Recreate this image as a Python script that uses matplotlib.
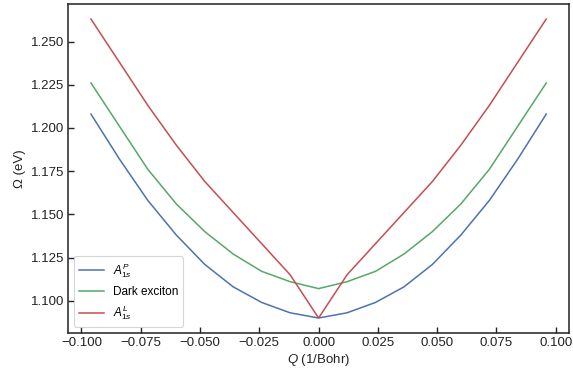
import matplotlib
matplotlib.use("Agg")
import matplotlib.pyplot as plt

# momentum grid (1/Bohr)
q = [-0.096, -0.084, -0.072, -0.060, -0.048, -0.036, -0.024, -0.012, 0.0,
     0.012, 0.024, 0.036, 0.048, 0.060, 0.072, 0.084, 0.096]

# exciton energies (eV)
a1s_p = [1.208, 1.182, 1.158, 1.138, 1.121, 1.108, 1.099, 1.093, 1.090,
         1.093, 1.099, 1.108, 1.121, 1.138, 1.158, 1.182, 1.208]
dark = [1.226, 1.201, 1.176, 1.156, 1.140, 1.127, 1.117, 1.111, 1.107,
        1.111, 1.117, 1.127, 1.140, 1.156, 1.176, 1.201, 1.226]
a1s_l = [1.263, 1.238, 1.213, 1.190, 1.169, 1.151, 1.133, 1.115, 1.090,
         1.115, 1.133, 1.151, 1.169, 1.190, 1.213, 1.238, 1.263]

plt.rcParams['font.family'] = ['Liberation Sans', 'DejaVu Sans']
plt.rcParams['mathtext.fontset'] = 'custom'
plt.rcParams['mathtext.rm'] = 'Liberation Sans'
plt.rcParams['mathtext.it'] = 'Liberation Sans:italic'
plt.rcParams['font.size'] = 9.5

fig = plt.figure(figsize=(5.73, 3.72), dpi=100)
ax = fig.add_axes([0.119, 0.105, 0.874, 0.884])

ax.plot(q, a1s_p, color='#4C72B0', lw=1.1, label=r'$A_{1s}^{P}$')
ax.plot(q, dark, color='#55A868', lw=1.1, label='Dark exciton')
ax.plot(q, a1s_l, color='#C44E52', lw=1.1, label=r'$A_{1s}^{L}$')

ax.set_xticks([-0.1, -0.075, -0.05, -0.025, 0.0, 0.025, 0.05, 0.075, 0.1])
ax.set_yticks([1.100, 1.125, 1.150, 1.175, 1.200, 1.225, 1.250])
ax.set_xticklabels(['\u22120.100', '\u22120.075', '\u22120.050', '\u22120.025', '0.000',
                    '0.025', '0.050', '0.075', '0.100'])
ax.set_yticklabels(['1.100', '1.125', '1.150', '1.175', '1.200', '1.225', '1.250'])
ax.tick_params(direction='in', length=4.5, width=1, pad=3,
               colors='#222222', labelcolor='#222222')
for s in ax.spines.values():
    s.set_linewidth(1.1)
    s.set_color('#222222')

ax.set_xlabel(r'$Q$ (1/Bohr)', color='#222222', labelpad=2)
ax.set_ylabel('\u03a9 (eV)', color='#222222', labelpad=3)

leg = ax.legend(loc='lower left', frameon=True, fancybox=True, handlelength=2.1,
                fontsize=8.5)
leg.get_frame().set_edgecolor('#cccccc')
leg.get_frame().set_linewidth(0.8)

fig.savefig('out.png', dpi=100)
